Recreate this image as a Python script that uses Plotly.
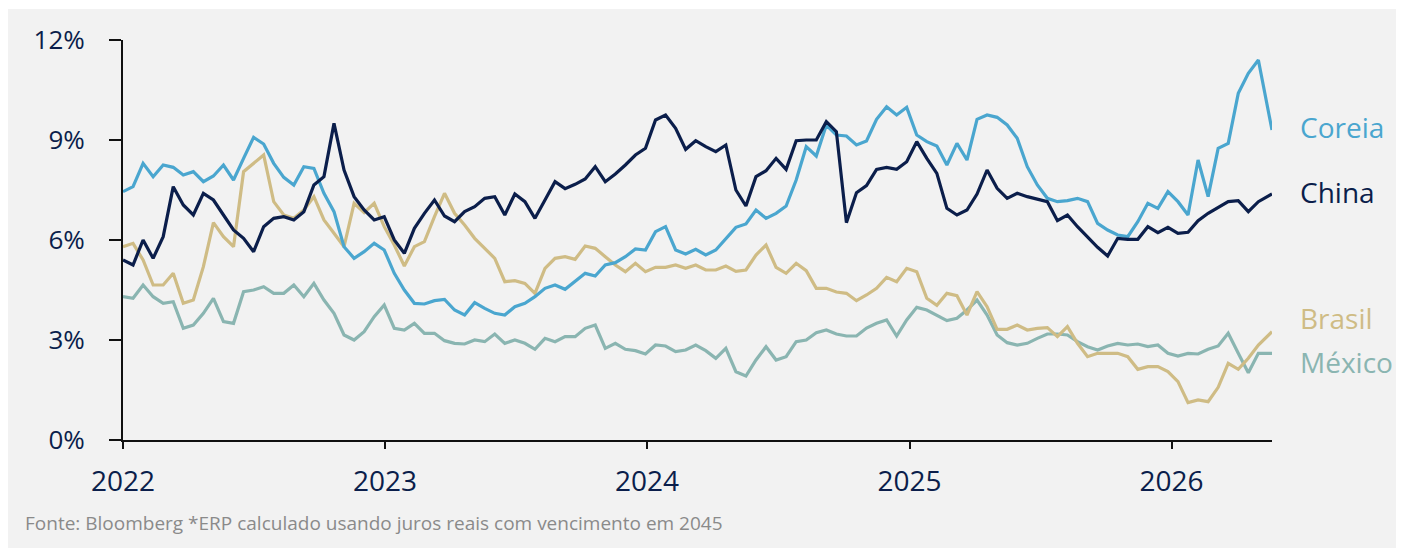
import pandas as pd
import plotly.graph_objects as go

# biweekly observation dates (last point = final observation)
dates = list(pd.date_range("2022-01-01", periods=114, freq="14D")) + [pd.Timestamp("2026-05-21")]

coreia = [7.45, 7.6, 8.3, 7.9, 8.25, 8.18, 7.95, 8.05, 7.75, 7.92,
          8.25, 7.8, 8.45, 9.08, 8.88, 8.3, 7.88, 7.65, 8.2, 8.15,
          7.4, 6.85, 5.8, 5.45, 5.65, 5.9, 5.7, 5.0, 4.5, 4.1,
          4.08, 4.18, 4.22, 3.9, 3.75, 4.12, 3.95, 3.8, 3.75, 4.0,
          4.1, 4.3, 4.55, 4.65, 4.52, 4.75, 5.0, 4.92, 5.25, 5.32,
          5.5, 5.73, 5.7, 6.25, 6.4, 5.7, 5.58, 5.72, 5.55, 5.7,
          6.05, 6.38, 6.48, 6.9, 6.65, 6.8, 7.02, 7.8, 8.8, 8.52,
          9.45, 9.15, 9.12, 8.85, 8.97, 9.62, 10.0, 9.75, 9.98, 9.15,
          8.95, 8.82, 8.25, 8.9, 8.4, 9.62, 9.75, 9.68, 9.45, 9.05,
          8.2, 7.65, 7.25, 7.15, 7.18, 7.25, 7.15, 6.5, 6.3, 6.15,
          6.1, 6.55, 7.1, 6.95, 7.45, 7.15, 6.75, 8.4, 7.3, 8.75,
          8.9, 10.4, 11.0, 11.4, 9.3]

china = [5.4, 5.25, 6.0, 5.45, 6.1, 7.6, 7.05, 6.75, 7.4, 7.2,
         6.75, 6.3, 6.05, 5.65, 6.4, 6.65, 6.7, 6.6, 6.85, 7.65,
         7.9, 9.5, 8.1, 7.3, 6.9, 6.6, 6.7, 6.0, 5.6, 6.35,
         6.8, 7.2, 6.72, 6.55, 6.85, 7.0, 7.25, 7.3, 6.75, 7.38,
         7.15, 6.65, 7.2, 7.75, 7.54, 7.67, 7.83, 8.2, 7.75, 7.98,
         8.25, 8.55, 8.75, 9.6, 9.75, 9.35, 8.72, 8.98, 8.8, 8.65,
         8.85, 7.5, 7.02, 7.9, 8.08, 8.45, 8.12, 8.98, 9.0, 9.0,
         9.55, 9.25, 6.52, 7.42, 7.63, 8.12, 8.18, 8.12, 8.35, 8.95,
         8.45, 8.0, 6.95, 6.75, 6.9, 7.38, 8.1, 7.55, 7.25, 7.4,
         7.3, 7.22, 7.15, 6.58, 6.75, 6.4, 6.1, 5.78, 5.52, 6.05,
         6.02, 6.02, 6.4, 6.22, 6.38, 6.2, 6.23, 6.58, 6.8, 6.98,
         7.15, 7.18, 6.85, 7.15, 7.38]

brasil = [5.8, 5.9, 5.4, 4.65, 4.65, 5.0, 4.1, 4.2, 5.2, 6.52,
          6.1, 5.8, 8.05, 8.3, 8.55, 7.15, 6.75, 6.65, 6.9, 7.3,
          6.6, 6.2, 5.8, 7.1, 6.82, 7.1, 6.4, 5.85, 5.22, 5.8,
          5.95, 6.7, 7.4, 6.8, 6.45, 6.05, 5.75, 5.45, 4.75, 4.78,
          4.7, 4.4, 5.15, 5.45, 5.5, 5.42, 5.82, 5.75, 5.5, 5.25,
          5.05, 5.3, 5.05, 5.18, 5.18, 5.25, 5.15, 5.25, 5.1, 5.1,
          5.22, 5.06, 5.1, 5.55, 5.85, 5.18, 5.0, 5.3, 5.08, 4.55,
          4.55, 4.44, 4.4, 4.18, 4.35, 4.55, 4.88, 4.75, 5.15, 5.05,
          4.25, 4.04, 4.4, 4.33, 3.75, 4.45, 4.0, 3.32, 3.32, 3.45,
          3.3, 3.35, 3.37, 3.1, 3.4, 2.9, 2.5, 2.6, 2.6, 2.6,
          2.5, 2.12, 2.2, 2.2, 2.05, 1.75, 1.12, 1.2, 1.15, 1.58,
          2.3, 2.12, 2.45, 2.85, 3.25]

mexico = [4.3, 4.25, 4.65, 4.3, 4.1, 4.15, 3.35, 3.45, 3.8, 4.25,
          3.55, 3.5, 4.45, 4.5, 4.6, 4.4, 4.4, 4.65, 4.3, 4.7,
          4.2, 3.8, 3.15, 3.0, 3.25, 3.7, 4.05, 3.35, 3.3, 3.5,
          3.2, 3.2, 2.98, 2.9, 2.88, 3.0, 2.95, 3.18, 2.9, 3.0,
          2.9, 2.72, 3.05, 2.95, 3.1, 3.1, 3.35, 3.45, 2.75, 2.9,
          2.72, 2.68, 2.58, 2.85, 2.82, 2.65, 2.7, 2.85, 2.68, 2.45,
          2.75, 2.05, 1.92, 2.4, 2.8, 2.4, 2.5, 2.95, 3.0, 3.22,
          3.3, 3.18, 3.12, 3.12, 3.36, 3.5, 3.6, 3.12, 3.6, 3.98,
          3.9, 3.75, 3.58, 3.65, 3.9, 4.2, 3.75, 3.15, 2.92, 2.85,
          2.9, 3.05, 3.18, 3.18, 3.15, 2.95, 2.8, 2.7, 2.82, 2.9,
          2.85, 2.88, 2.8, 2.85, 2.6, 2.52, 2.6, 2.58, 2.72, 2.82,
          3.2, 2.6, 2.02, 2.6, 2.6]

series_names = ["México", "Brasil", "Coreia", "China"]
series_values = [mexico, brasil, coreia, china]
series_colors = ["#8ab5b1", "#cfbc85", "#4aa6cf", "#0b1e4b"]

label_names = ["Coreia", "China", "Brasil", "México"]
label_y = [9.39, 7.44, 3.66, 2.34]
label_colors = ["#4aa6cf", "#0b1e4b", "#cfbc85", "#8ab5b1"]

y_ticks = [0, 3, 6, 9, 12]
y_tick_text = ["0%", "3%", "6%", "9%", "12%"]
x_ticks = ["2022-01-01", "2023-01-01", "2024-01-01", "2025-01-01", "2026-01-01"]
x_tick_text = ["2022", "2023", "2024", "2025", "2026"]

source_text = "Fonte: Bloomberg *ERP calculado usando juros reais com vencimento em 2045"

navy = "#0b1e4b"
bg = "#f2f2f2"
font_family = "Open Sans"

fig = go.Figure()
for name, vals, col in zip(series_names, series_values, series_colors):
    fig.add_trace(go.Scatter(x=dates, y=vals, mode="lines", name=name,
                             line=dict(color=col, width=3.2), showlegend=False,
                             hoverinfo="skip"))

for txt, yv, col in zip(label_names, label_y, label_colors):
    fig.add_annotation(x=1, xref="paper", y=yv, yref="y", text=txt,
                       xanchor="left", yanchor="middle", xshift=26, showarrow=False,
                       font=dict(family=font_family, size=28, color=col))

fig.add_annotation(x=-0.087, xref="paper", y=-0.2075, yref="paper", text=source_text,
                   xanchor="left", yanchor="middle", showarrow=False,
                   font=dict(family=font_family, size=19, color="#8a8a8a"))

fig.add_shape(type="rect", xref="paper", yref="paper", x0=-0.12, x1=1.1079,
              y0=-0.3, y1=1.0775, fillcolor=bg, line=dict(width=0), layer="below")

fig.update_layout(
    width=1398, height=540,
    margin=dict(l=115, r=134, t=32, b=108),
    paper_bgcolor="white", plot_bgcolor=bg,
    font=dict(family=font_family, color=navy),
)
fig.update_xaxes(range=["2022-01-01", "2026-05-21"], tickvals=x_ticks, ticktext=x_tick_text,
                 showgrid=False, zeroline=False, showline=True, linecolor="#111111", linewidth=2,
                 ticks="outside", ticklen=7, tickwidth=2, tickcolor="#111111",
                 tickfont=dict(size=28, color=navy), ticklabelstandoff=8)
fig.update_yaxes(range=[0, 12], tickvals=y_ticks, ticktext=y_tick_text,
                 showgrid=False, zeroline=False, showline=True, linecolor="#111111", linewidth=2,
                 ticks="outside", ticklen=12, tickwidth=2, tickcolor="#111111",
                 tickfont=dict(size=26, color=navy), ticklabelstandoff=19)

fig.write_html("out.html")
